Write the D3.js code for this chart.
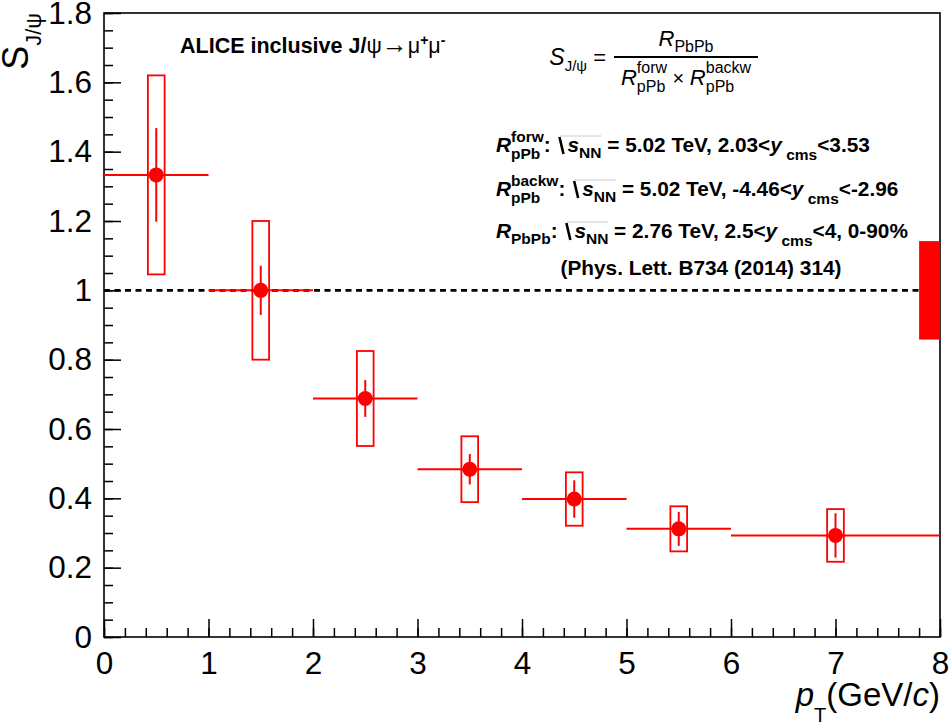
<!DOCTYPE html>
<html lang="en">
<head>
<meta charset="UTF-8">
<title>S J/psi vs pT</title>
<script src="https://d3js.org/d3.v7.min.js"></script>
<style>
    body, html { margin: 0; padding: 0; background: #fff; }
    svg { display: block; }
    text { font-family: "Liberation Sans", Arial, Helvetica, sans-serif; white-space: pre; }
    .tick line { stroke: #000; stroke-width: 1.5; }
    .tick text { font-size: 31.5px; fill: #000; }
</style>
</head>
<body>
<svg></svg>
<script>
    // data
    const ptCenter = [0.5, 1.5, 2.5, 3.5, 4.5, 5.5, 7];
    const ptLow    = [0, 1, 2, 3, 4, 5, 6];
    const ptHigh   = [1, 2, 3, 4, 5, 6, 8];
    const sValue   = [1.333, 1.000, 0.688, 0.484, 0.398, 0.312, 0.293];
    const statErr  = [0.135, 0.071, 0.053, 0.044, 0.054, 0.049, 0.064];
    const systErr  = [0.287, 0.200, 0.137, 0.095, 0.077, 0.065, 0.076];
    const globalUnc = 0.142;
    const xTicks = [0, 1, 2, 3, 4, 5, 6, 7, 8];
    const yTicks = [0, 0.2, 0.4, 0.6, 0.8, 1, 1.2, 1.4, 1.6, 1.8];

    const width = 950, height = 725;
    const svg = d3.select("svg").attr("width", width).attr("height", height);

    const x = d3.scaleLinear().domain([0, 8]).range([104, 940]);
    const y = d3.scaleLinear().domain([0, 1.8]).range([637, 13]);

    const fmt = d => String(+d.toFixed(1));

    // axes (ticks inside the frame, like ROOT)
    svg.append("g")
        .attr("transform", `translate(0,${y(0)})`)
        .call(d3.axisBottom(x).tickValues(d3.range(0, 8.01, 0.2)).tickSizeInner(-9).tickSizeOuter(0).tickFormat(""))
        .call(g => g.select(".domain").remove());
    svg.append("g")
        .attr("transform", `translate(0,${y(0)})`)
        .call(d3.axisBottom(x).tickValues(xTicks).tickSizeInner(-18).tickSizeOuter(0).tickPadding(15).tickFormat(fmt))
        .call(g => g.select(".domain").remove());
    svg.append("g")
        .attr("transform", `translate(${x(0)},0)`)
        .call(d3.axisLeft(y).tickValues(d3.range(0, 1.801, 0.05)).tickSizeInner(-9).tickSizeOuter(0).tickFormat(""))
        .call(g => g.select(".domain").remove());
    svg.append("g")
        .attr("transform", `translate(${x(0)},0)`)
        .call(d3.axisLeft(y).tickValues(yTicks).tickSizeInner(-17).tickSizeOuter(0).tickPadding(12).tickFormat(fmt))
        .call(g => g.select(".domain").remove());

    // frame
    svg.append("rect")
        .attr("x", x(0)).attr("y", y(1.8))
        .attr("width", x(8) - x(0)).attr("height", y(0) - y(1.8))
        .attr("fill", "none").attr("stroke", "#000").attr("stroke-width", 1.6);

    // reference line at 1
    svg.append("line")
        .attr("x1", x(0)).attr("x2", x(8))
        .attr("y1", y(1)).attr("y2", y(1))
        .attr("stroke", "#000").attr("stroke-width", 2.6)
        .attr("stroke-dasharray", "6,4.5");

    // global uncertainty box at the right edge
    svg.append("rect")
        .attr("x", x(7.8)).attr("y", y(1 + globalUnc))
        .attr("width", x(8) - x(7.8)).attr("height", y(1 - globalUnc) - y(1 + globalUnc))
        .attr("fill", "#ff0000");

    const pts = ptCenter.map((c, i) => ({
        c, lo: ptLow[i], hi: ptHigh[i], v: sValue[i], st: statErr[i], sy: systErr[i]
    }));
    const boxHalf = 0.08;
    const red = "#ff0000";

    const data = svg.append("g");
    data.selectAll(".syst").data(pts).enter().append("rect")
        .attr("x", d => x(d.c - boxHalf))
        .attr("y", d => y(d.v + d.sy))
        .attr("width", d => x(d.c + boxHalf) - x(d.c - boxHalf))
        .attr("height", d => y(d.v - d.sy) - y(d.v + d.sy))
        .attr("fill", "none").attr("stroke", red).attr("stroke-width", 1.8);
    data.selectAll(".xerr").data(pts).enter().append("line")
        .attr("x1", d => x(d.lo)).attr("x2", d => x(d.hi))
        .attr("y1", d => y(d.v)).attr("y2", d => y(d.v))
        .attr("stroke", red).attr("stroke-width", 2);
    data.selectAll(".yerr").data(pts).enter().append("line")
        .attr("x1", d => x(d.c)).attr("x2", d => x(d.c))
        .attr("y1", d => y(d.v - d.st)).attr("y2", d => y(d.v + d.st))
        .attr("stroke", red).attr("stroke-width", 2);
    data.selectAll(".marker").data(pts).enter().append("circle")
        .attr("cx", d => x(d.c)).attr("cy", d => y(d.v))
        .attr("r", 7.5).attr("fill", red);

    // axis titles
    const yt = svg.append("text")
        .attr("transform", "translate(28,13) rotate(-90)")
        .attr("text-anchor", "end");
    yt.append("tspan").attr("font-size", 36).text("S");
    yt.append("tspan").attr("font-size", 22).attr("dy", 13).text("J/\u03c8");

    const xt = svg.append("text")
        .attr("x", 940).attr("y", 706)
        .attr("text-anchor", "end").attr("font-size", 33);
    xt.append("tspan").attr("font-style", "italic").text("p");
    xt.append("tspan").attr("font-size", 20).attr("dy", 16).text("T");
    xt.append("tspan").attr("dy", -16).text("(GeV/");
    xt.append("tspan").attr("font-style", "italic").text("c");
    xt.append("tspan").text(")");

    // rich text helper: pieces laid out one after another
    function rich(parent, x0, y0, parts, anchor, base) {
        const g = parent.append("g");
        let cx = 0, sqrtX = 0;
        const add = (txt, px, py, p) => {
            const t = g.append("text")
                .attr("x", px).attr("y", py)
                .attr("font-size", p.size || base.size)
                .attr("font-weight", p.bold === undefined ? base.bold : p.bold)
                .attr("font-style", p.it ? "italic" : "normal")
                .attr("fill", "#000")
                .text(txt);
            return t.node().getComputedTextLength();
        };
        parts.forEach(p => {
            if (p.sqrt === "start") {
                g.append("line")
                    .attr("x1", cx + 3).attr("y1", -15).attr("x2", cx + 7).attr("y2", 2)
                    .attr("stroke", "#000").attr("stroke-width", 2.6);
                sqrtX = cx + 3;
                cx += 11;
                return;
            }
            if (p.sqrt === "end") {
                g.append("line")
                    .attr("x1", sqrtX).attr("y1", -16).attr("x2", cx).attr("y2", -16)
                    .attr("stroke", "#ccc").attr("stroke-width", 1);
                return;
            }
            if (p.stack) {
                const w1 = add(p.stack[0], cx, -p.rise, p);
                const w2 = add(p.stack[1], cx, p.drop, p);
                cx += Math.max(w1, w2);
                return;
            }
            cx += add(p.t, cx, p.dy || 0, p);
        });
        const shift = anchor === "middle" ? -cx / 2 : anchor === "end" ? -cx : 0;
        g.attr("transform", `translate(${x0 + shift},${y0})`);
        return cx;
    }

    // experiment label
    rich(svg, 180, 53, [
        { t: "ALICE inclusive J/" },
        { t: "\u03c8", bold: "normal" },
        { t: "\u2192", bold: "normal", size: 26 },
        { t: "\u03bc", bold: "normal" },
        { t: "+", size: 14, dy: -8 },
        { t: "\u03bc", bold: "normal" },
        { t: "-", size: 14, dy: -8 }
    ], "start", { size: 21.5, bold: "bold" });

    // definition formula
    const fcx = 686;
    const formula = { size: 22, bold: "normal" };
    rich(svg, 606, 65, [
        { t: "S", it: true, size: 23 },
        { t: "J/\u03c8", size: 15, dy: 6 },
        { t: " =", size: 22 }
    ], "end", formula);
    svg.append("line")
        .attr("x1", fcx - 72).attr("x2", fcx + 72)
        .attr("y1", 57).attr("y2", 57)
        .attr("stroke", "#000").attr("stroke-width", 2);
    rich(svg, fcx, 46, [
        { t: "R", it: true },
        { t: "PbPb", size: 16, dy: 6 }
    ], "middle", formula);
    rich(svg, fcx, 85, [
        { t: "R", it: true },
        { stack: ["forw", "pPb"], size: 16, rise: 12, drop: 7 },
        { t: " \u00d7 ", size: 20 },
        { t: "R", it: true },
        { stack: ["backw", "pPb"], size: 16, rise: 12, drop: 7 }
    ], "middle", formula);

    // conditions
    const info = { size: 20.8, bold: "bold" };
    const sqrtPart = [
        { sqrt: "start" },
        { t: "s", it: true },
        { t: "NN", size: 15.5, dy: 6 },
        { sqrt: "end" }
    ];
    rich(svg, 496, 152, [
        { t: "R", it: true },
        { stack: ["forw", "pPb"], size: 15.5, rise: 10, drop: 7 },
        { t: ": " },
        ...sqrtPart,
        { t: " = 5.02 TeV, 2.03<" },
        { t: "y", it: true },
        { t: " cms", size: 15.5, dy: 8 },
        { t: "<3.53" }
    ], "start", info);
    rich(svg, 496, 196, [
        { t: "R", it: true },
        { stack: ["backw", "pPb"], size: 15.5, rise: 10, drop: 7 },
        { t: ": " },
        ...sqrtPart,
        { t: " = 5.02 TeV, -4.46<" },
        { t: "y", it: true },
        { t: " cms", size: 15.5, dy: 8 },
        { t: "<-2.96" }
    ], "start", info);
    rich(svg, 496, 238, [
        { t: "R", it: true },
        { t: "PbPb", size: 15.5, dy: 6 },
        { t: ": " },
        ...sqrtPart,
        { t: " = 2.76 TeV, 2.5<" },
        { t: "y", it: true },
        { t: " cms", size: 15.5, dy: 8 },
        { t: "<4, 0-90%" }
    ], "start", info);
    rich(svg, 701, 275, [
        { t: "(Phys. Lett. B734 (2014) 314)" }
    ], "middle", info);
</script>
</body>
</html>
